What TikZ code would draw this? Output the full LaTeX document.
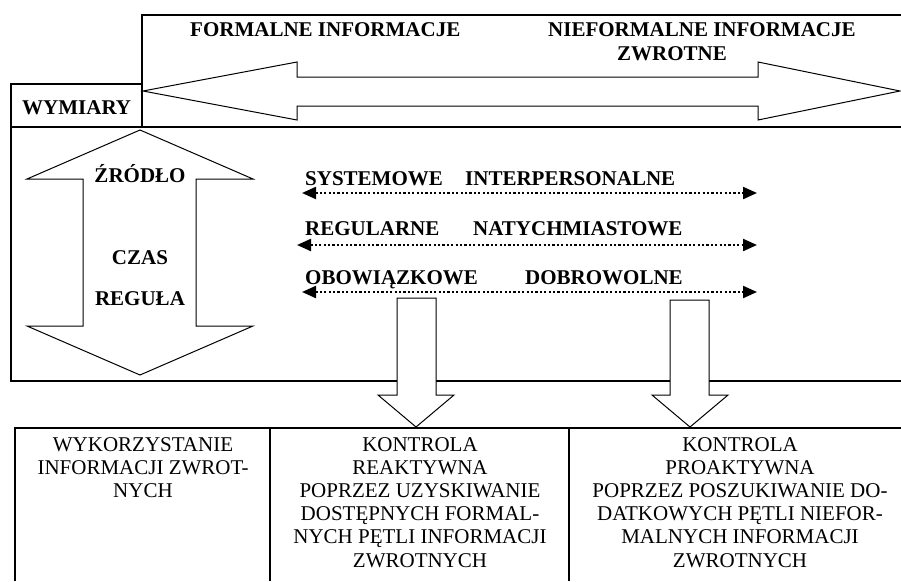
\documentclass[tikz,border=0pt]{standalone}
\usepackage{fontspec}
\setmainfont{Liberation Serif}
\usetikzlibrary{arrows.meta}
\begin{document}
\begin{tikzpicture}[x=1pt,y=-1pt,
  frame/.style={line width=2pt},
  blockarrow/.style={draw, fill=white, line width=1pt, line join=miter},
  boldlbl/.style={font=\fontsize{21}{23}\selectfont\bfseries, inner sep=0pt},
  cell/.style={font=\fontsize{21}{23.2}\selectfont, align=center, inner sep=0pt, anchor=north},
  dotarrow/.style={line width=2.2pt, dash pattern=on 2.2pt off 2.2pt,
    {Triangle[length=14pt,width=12pt]}-{Triangle[length=14pt,width=12pt]}}
]
\useasboundingbox (0,0) rectangle (901,581);
% frames
\draw[frame] (901,15) -- (142,15) -- (142,127);
\draw[frame] (142,84) -- (11,84) -- (11,381) -- (901,381);
\draw[frame] (11,127) -- (901,127);
\draw[frame] (15,581) -- (15,428) -- (901,428);
\draw[frame] (270,428) -- (270,581);
\draw[frame] (569,428) -- (569,581);
% horizontal block arrow
\draw[blockarrow] (143,91) -- (297,62) -- (297,77) -- (758,77) -- (758,62) -- (900,91)
  -- (758,120) -- (758,106) -- (297,106) -- (297,120) -- cycle;
% vertical block arrow
\draw[blockarrow] (140,130) -- (253,179) -- (196,179) -- (196,326) -- (253,326) -- (140,375)
  -- (27,326) -- (83,326) -- (83,179) -- (27,179) -- cycle;
% down arrows
\draw[blockarrow] (397,298) -- (436,298) -- (436,395) -- (454,395) -- (416,427)
  -- (378,395) -- (397,395) -- cycle;
\draw[blockarrow] (670,300) -- (709,300) -- (709,395) -- (728,395) -- (690,427)
  -- (652,395) -- (670,395) -- cycle;
% top labels
\node[boldlbl, anchor=base west] (formal) at (190,36) {FORMALNE INFORMACJE};
\node[boldlbl, anchor=base west] (nieformal) at (548,36) {NIEFORMALNE INFORMACJE};
\node[boldlbl, anchor=base west] (zwrotne) at (617,60) {ZWROTNE};
\node[boldlbl, anchor=base west] (wymiary) at (22,114) {WYMIARY};
% vertical arrow labels
\node[boldlbl, anchor=base] (zrodlo) at (140,182) {ŹRÓDŁO};
\node[boldlbl, anchor=base] (czas) at (140,264) {CZAS};
\node[boldlbl, anchor=base] (regula) at (140,305) {REGUŁA};
% dimension labels
\node[boldlbl, anchor=base west] (syst) at (305,185) {SYSTEMOWE};
\node[boldlbl, anchor=base west] (inter) at (465,185) {INTERPERSONALNE};
\node[boldlbl, anchor=base west] (regul) at (305,235) {REGULARNE};
\node[boldlbl, anchor=base west] (natych) at (473,235) {NATYCHMIASTOWE};
\node[boldlbl, anchor=base west] (obow) at (305,284) {OBOWIĄZKOWE};
\node[boldlbl, anchor=base west] (dobro) at (525,284) {DOBROWOLNE};
% dotted arrows
\coordinate (d1l) at (302,193); \coordinate (d1r) at (757,193);
\coordinate (d2l) at (297,245); \coordinate (d2r) at (757,245);
\coordinate (d3l) at (302,292); \coordinate (d3r) at (757,292);
\draw[dotarrow] (d1l) -- (d1r);
\draw[dotarrow] (d2l) -- (d2r);
\draw[dotarrow] (d3l) -- (d3r);
% table cells
\node[cell] (c1) at (143,437) {WYKORZYSTANIE\\INFORMACJI ZWROT-\\NYCH};
\node[cell] (c2) at (420,437) {KONTROLA\\REAKTYWNA\\POPRZEZ UZYSKIWANIE\\DOSTĘPNYCH FORMAL-\\NYCH PĘTLI INFORMACJI\\ZWROTNYCH};
\node[cell] (c3) at (740,437) {KONTROLA\\PROAKTYWNA\\POPRZEZ POSZUKIWANIE DO-\\DATKOWYCH PĘTLI NIEFOR-\\MALNYCH INFORMACJI\\ZWROTNYCH};
\end{tikzpicture}
\end{document}
